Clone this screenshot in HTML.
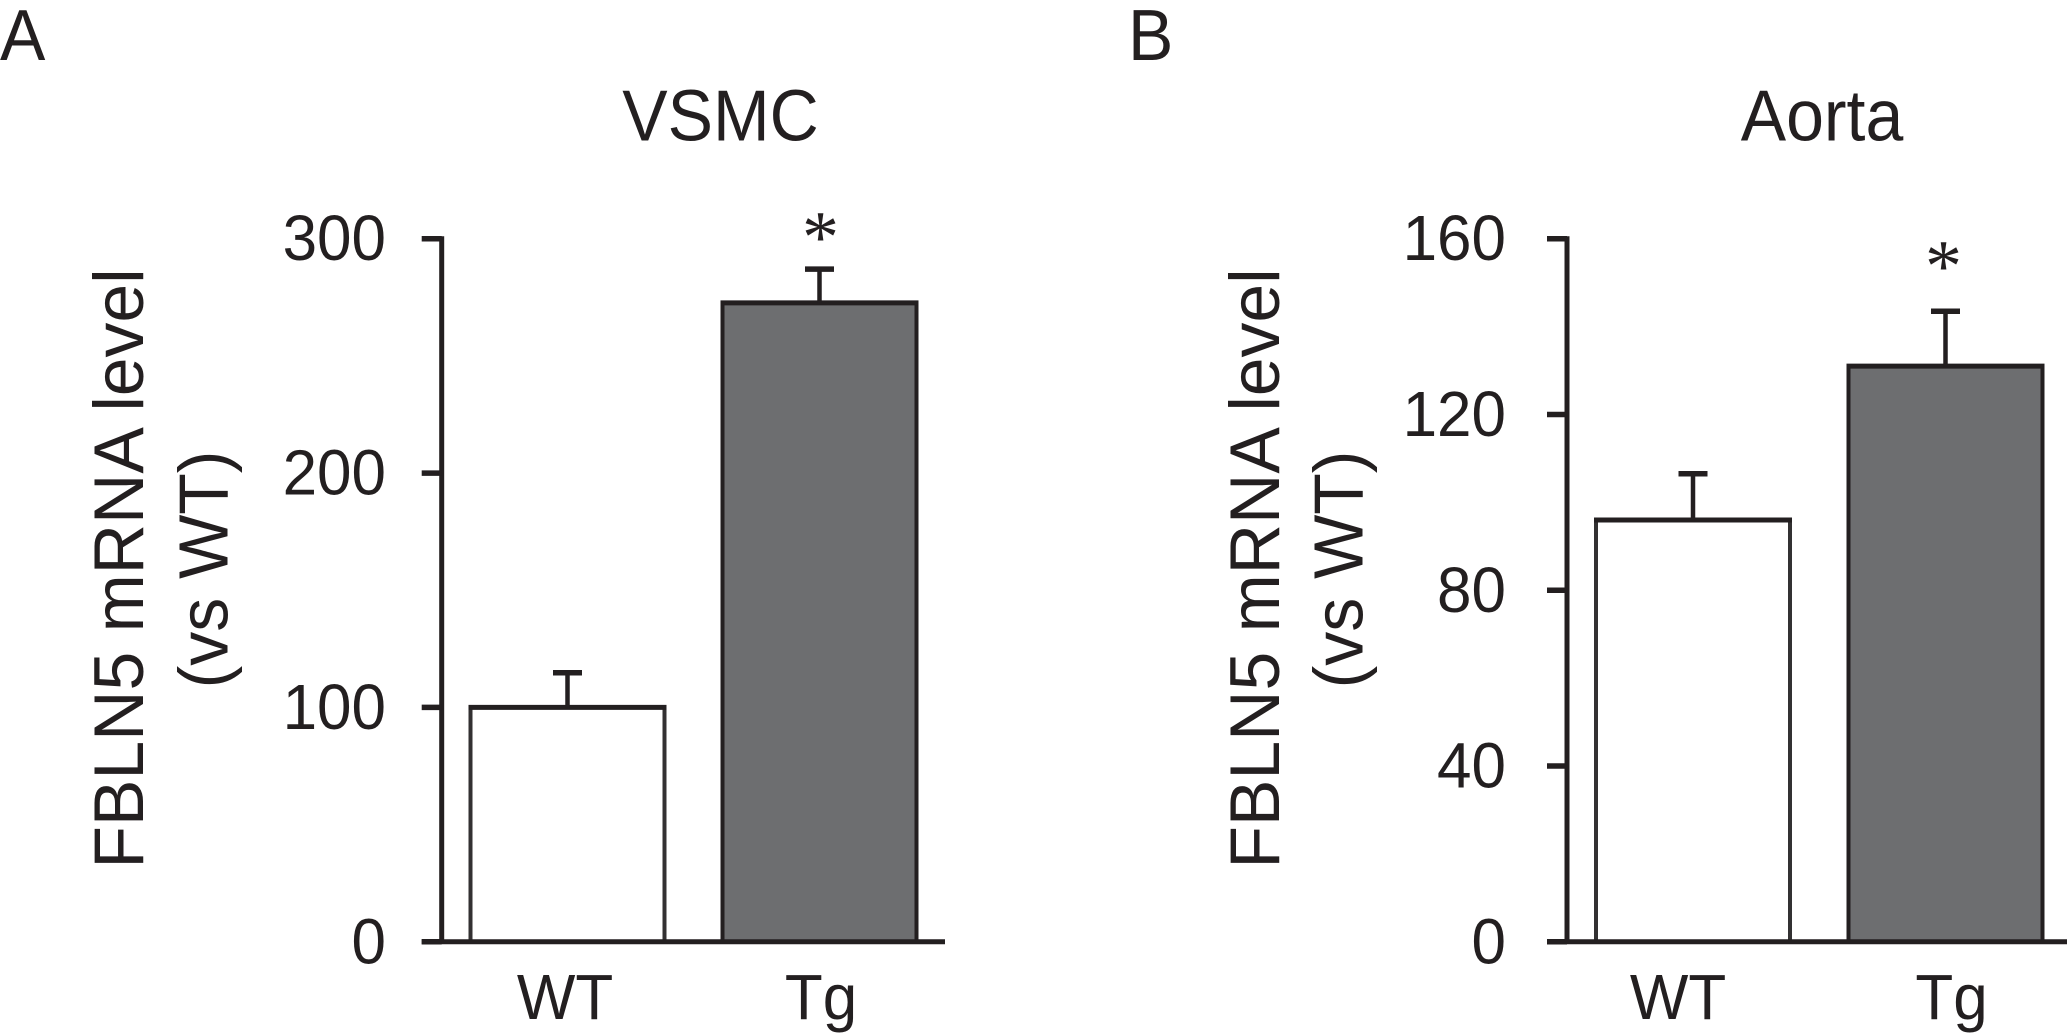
<!DOCTYPE html>
<html lang="en">
<head>
<meta charset="utf-8">
<title>FBLN5 mRNA level: VSMC and Aorta</title>
<style>
html,body{margin:0;padding:0;background:#fff;width:2067px;height:1034px;overflow:hidden}
svg{display:block}
text{font-family:"Liberation Sans",Arial,sans-serif;fill:#231f20}
</style>
</head>
<body>
<svg id="figure" xmlns="http://www.w3.org/2000/svg" width="2067" height="1034" viewBox="0 0 2067 1034">
  <text transform="translate(0 60) scale(1 1.06)" font-size="68">A</text>
  <text transform="translate(1128 60) scale(1 1.06)" font-size="68">B</text>
  <text transform="translate(720.5 140.5) scale(1 1.06)" font-size="68" text-anchor="middle">VSMC</text>
  <text transform="translate(1822 140.5) scale(1 1.06)" font-size="68" text-anchor="middle">Aorta</text>
  <text transform="translate(143 568.5) rotate(-90) scale(1.025 1.03)" font-size="68" text-anchor="middle">FBLN5 mRNA level</text>
  <text transform="translate(227.5 569.5) rotate(-90) scale(1 1.03)" font-size="68" text-anchor="middle">(vs WT)</text>
  <text transform="translate(1279 568.5) rotate(-90) scale(1.025 1.03)" font-size="68" text-anchor="middle">FBLN5 mRNA level</text>
  <text transform="translate(1362.5 569.5) rotate(-90) scale(1 1.03)" font-size="68" text-anchor="middle">(vs WT)</text>
</svg>
<script>
var categories = ['WT', 'Tg'];

var vsmcValues = [100, 272.6];
var vsmcErrorTops = [114.8, 287];
var vsmcTicks = [0, 100, 200, 300];
var vsmcMax = 300;

var aortaValues = [96, 131];
var aortaErrorTops = [106.5, 143.5];
var aortaTicks = [0, 40, 80, 120, 160];
var aortaMax = 160;

var INK = '#231f20';
var GREY = '#6d6e70';
var svg = document.getElementById('figure');
var NS = 'http://www.w3.org/2000/svg';

function shape(tag, props) {
  var el = document.createElementNS(NS, tag);
  for (var k in props) el.setAttribute(k, props[k]);
  svg.appendChild(el);
  return el;
}

function drawPanel(panel) {
  var yTop = 238.7, yBase = 941.8;
  function y(v) { return yBase - (v / panel.max) * (yBase - yTop); }
  function barLeft(i) { return panel.bandStart + i * panel.bandStep; }
  function barCenter(i) { return barLeft(i) + panel.barWidth / 2; }

  // bars
  panel.values.forEach(function (v, i) {
    var bar = shape('rect', {
      x: barLeft(i), y: y(v), width: panel.barWidth, height: yBase - y(v),
      fill: i === 0 ? '#ffffff' : GREY, stroke: i === 0 ? '#333132' : INK, 'stroke-width': 4
    });
    
    
    var topEdge = shape('line', {
      x1: barLeft(i) - 2, x2: barLeft(i) + panel.barWidth + 2, y1: y(v), y2: y(v),
      stroke: INK, 'stroke-width': 5
    });
    
    

    var stem = shape('line', {
      x1: barCenter(i), x2: barCenter(i), y1: y(v), y2: y(panel.errorTops[i]),
      stroke: INK, 'stroke-width': 4.5
    });
    
    
    var cap = shape('line', {
      x1: barCenter(i) - 14.5, x2: barCenter(i) + 14.5,
      y1: y(panel.errorTops[i]), y2: y(panel.errorTops[i]),
      stroke: INK, 'stroke-width': 5.5
    });
    
    
  });

  // y axis line
  var yAxis = shape('line', {
    x1: panel.axisX, x2: panel.axisX, y1: yTop - 2.5, y2: yBase,
    stroke: INK, 'stroke-width': 5
  });
  
  

  // x axis line
  var xAxis = shape('line', {
    x1: panel.axisX - 20, x2: panel.xAxisEnd, y1: yBase, y2: yBase,
    stroke: INK, 'stroke-width': 5
  });
  
  

  // y ticks and labels
  panel.ticks.forEach(function (t) {
    var tick = shape('line', {
      x1: panel.axisX - 20, x2: panel.axisX, y1: y(t), y2: y(t),
      stroke: INK, 'stroke-width': 5.5
    });
    
    
    var label = shape('text', {
      transform: 'translate(' + panel.tickLabelX + ' ' + (y(t) + 21.5) + ') scale(1 1.035)',
      'font-size': 62, 'text-anchor': 'end'
    });
    label.textContent = String(t);
    
    
  });

  // category labels
  categories.forEach(function (c, i) {
    var label = shape('text', {
      transform: 'translate(' + (barCenter(i) + panel.labelShift[i]) + ' 1019) scale(1 1.035)',
      'font-size': 62, 'text-anchor': 'middle'
    });
    label.textContent = c;
    
    
  });

  // significance marker above the second bar
  var star = shape('text', {
    x: barCenter(1) + panel.starShift, y: y(panel.errorTops[1]) - 8 - panel.starGap,
    'font-size': 74, 'text-anchor': 'middle'
  });
  star.style.fontFamily = '"Liberation Serif", serif';
  star.textContent = '*';
  
  
}

drawPanel({
  id: 'vsmc', values: vsmcValues, errorTops: vsmcErrorTops, ticks: vsmcTicks, max: vsmcMax,
  bandStart: 470.5, bandStep: 252, barWidth: 194, axisX: 441.7, xAxisEnd: 945, tickLabelX: 386,
  labelShift: [-2.5, 1.5], starShift: 1, starGap: -1
});
drawPanel({
  id: 'aorta', values: aortaValues, errorTops: aortaErrorTops, ticks: aortaTicks, max: aortaMax,
  bandStart: 1596, bandStep: 252.5, barWidth: 194, axisX: 1567, xAxisEnd: 2067, tickLabelX: 1506,
  labelShift: [-15, 6], starShift: -2, starGap: 12
});
</script>
</body>
</html>
